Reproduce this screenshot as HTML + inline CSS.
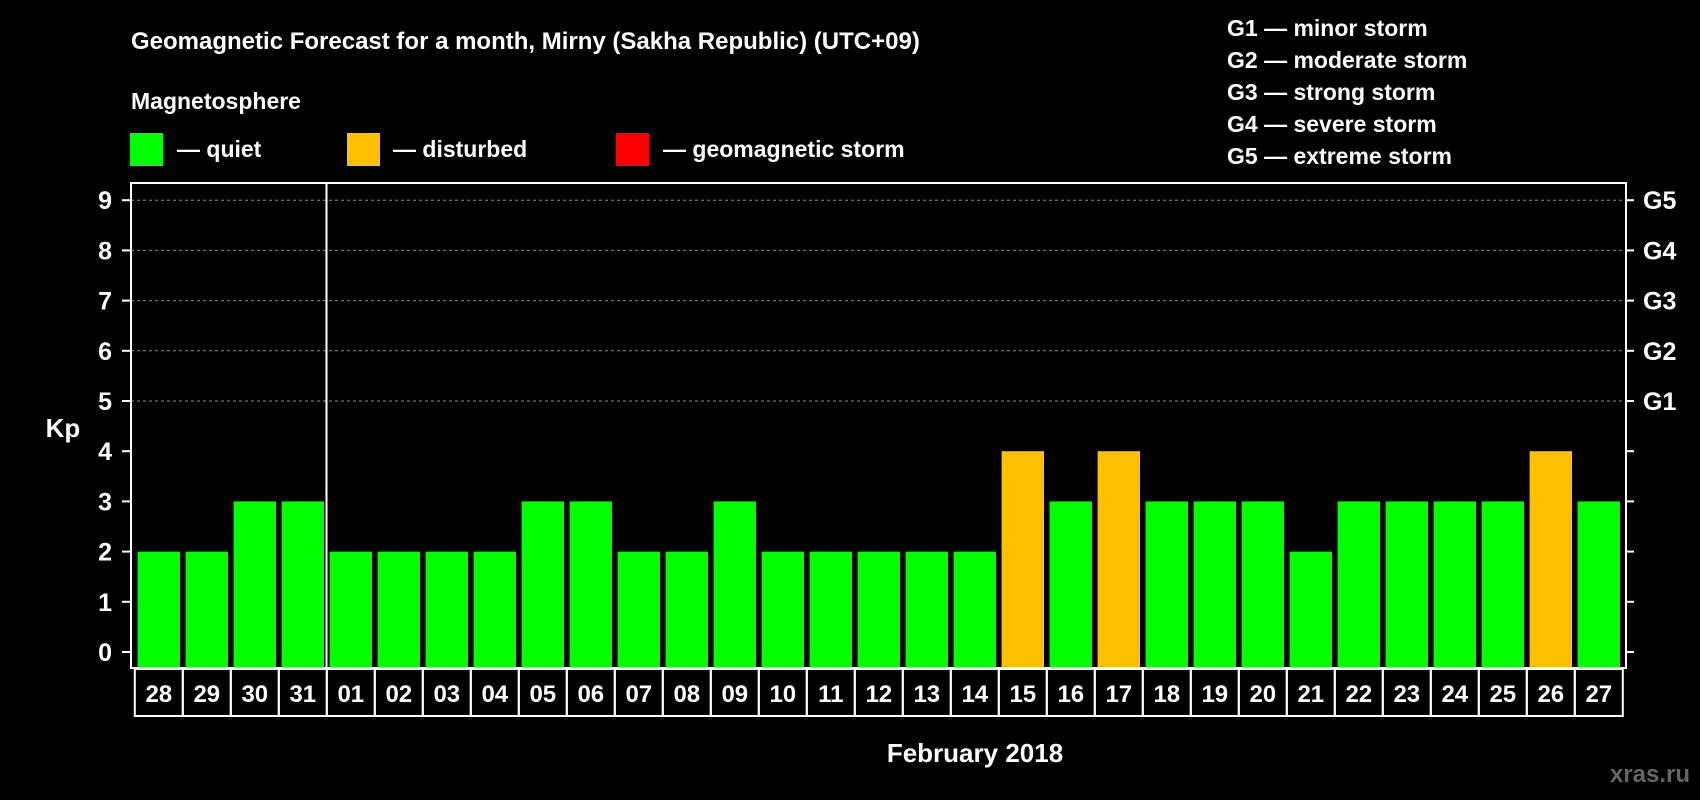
<!DOCTYPE html>
<html><head><meta charset="utf-8"><style>
body{margin:0;background:#000;}
svg{display:block;font-family:"Liberation Sans",sans-serif;font-weight:bold;}
</style></head><body>
<svg id="chart" width="1700" height="800" viewBox="0 0 1700 800">
<rect width="1700" height="800" fill="#000"/>
<text x="131" y="49" fill="#fff" font-size="24">Geomagnetic Forecast for a month, Mirny (Sakha Republic) (UTC+09)</text>
<text x="131" y="109" fill="#fff" font-size="23">Magnetosphere</text>
<rect x="130" y="133" width="33" height="33" fill="#00ff00"/>
<text x="177" y="157" fill="#fff" font-size="23">— quiet</text>
<rect x="347" y="133" width="33" height="33" fill="#ffc000"/>
<text x="393" y="157" fill="#fff" font-size="23">— disturbed</text>
<rect x="616" y="133" width="33" height="33" fill="#ff0000"/>
<text x="663" y="157" fill="#fff" font-size="23">— geomagnetic storm</text>
<g fill="#fff" font-size="23">
<text x="1227" y="36">G1 — minor storm</text>
<text x="1227" y="68">G2 — moderate storm</text>
<text x="1227" y="100">G3 — strong storm</text>
<text x="1227" y="132">G4 — severe storm</text>
<text x="1227" y="164">G5 — extreme storm</text>
</g>
<text x="63" y="437" fill="#fff" font-size="26" text-anchor="middle">Kp</text>
<text x="975" y="762" fill="#fff" font-size="26" text-anchor="middle">February 2018</text>
<text x="1690" y="782" fill="#666" font-size="24" text-anchor="end">xras.ru</text>
<g id="grid"></g><g id="bars"></g><g id="labels"></g>
<rect x="131" y="183" width="1495" height="485" fill="none" stroke="#fff" stroke-width="2"/>
<line x1="326.5" y1="183" x2="326.5" y2="668" stroke="#fff" stroke-width="2"/>
</svg>
<script>
const days=["28","29","30","31","01","02","03","04","05","06","07","08","09","10","11","12","13","14","15","16","17","18","19","20","21","22","23","24","25","26","27"];
const kpValues=[2,2,3,3,2,2,2,2,3,3,2,2,3,2,2,2,2,2,4,3,4,3,3,3,2,3,3,3,3,4,3];
const yTicks=[0,1,2,3,4,5,6,7,8,9];
const gLabels=["G1","G2","G3","G4","G5"];
const NS="http://www.w3.org/2000/svg";
const y=v=>652-v*50.2;
const xc=i=>158.8+i*48.0;
function mk(t,a,p){const e=document.createElementNS(NS,t);for(const k in a)e.setAttribute(k,a[k]);p.appendChild(e);return e;}
const grid=document.getElementById('grid'),bars=document.getElementById('bars'),labels=document.getElementById('labels');
yTicks.forEach(v=>{
  const t=mk('line',{x1:122,x2:131,y1:y(v),y2:y(v),stroke:'#fff','stroke-width':2},grid);
  
  
  const r=mk('line',{x1:1626,x2:1634,y1:y(v),y2:y(v),stroke:'#fff','stroke-width':2},grid);
  
  
  if(v>=5){const g=mk('line',{x1:131,x2:1626,y1:y(v),y2:y(v),stroke:'#888','stroke-width':1,'stroke-dasharray':'3,3'},grid);
    
    
    const gl=mk('text',{x:1643,y:y(v)+9,fill:'#fff','font-size':25},labels);gl.textContent=gLabels[v-5];
    
    }
  const l=mk('text',{x:112,y:y(v)+9,fill:'#fff','font-size':25,'text-anchor':'end'},labels);l.textContent=v;
  
  
});
kpValues.forEach((v,i)=>{
  const c=v>=5?'#ff0000':(v>=4?'#ffc000':'#00ff00');
  const b=mk('rect',{x:xc(i)-21.2,y:y(v),width:42.4,height:y(0)-y(v)+15,fill:c},bars);
  
  
  const bx=mk('rect',{x:xc(i)-24,y:669,width:48,height:47,fill:'none',stroke:'#fff','stroke-width':2},labels);
  
  
  const t=mk('text',{x:xc(i),y:702,fill:'#fff','font-size':24,'text-anchor':'middle'},labels);t.textContent=days[i];
  
  
});
</script>
</body></html>
